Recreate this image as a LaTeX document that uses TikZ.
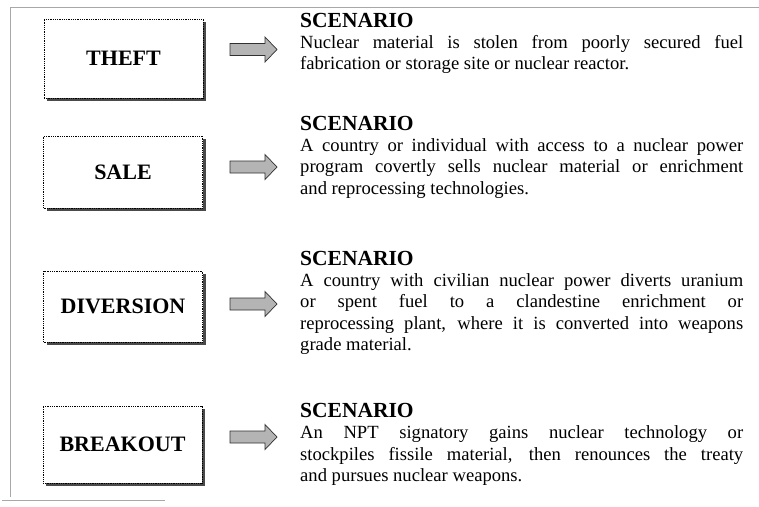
\documentclass[tikz,border=0pt]{standalone}
\usepackage{fontspec}
\setmainfont{Liberation Serif}
\usetikzlibrary{shadows}
\definecolor{framegray}{HTML}{A8A8A8}
\definecolor{shadowgray}{HTML}{4A4A4A}
\definecolor{arrowfill}{HTML}{B4B4B4}
\definecolor{arrowline}{HTML}{303030}
\begin{document}
\begin{tikzpicture}[x=1pt,y=-1pt,
  frameline/.style={draw=framegray, line width=0.9pt},
  labelbox/.style={draw=black, densely dotted, line width=0.8pt, fill=white,
    minimum width=159pt, inner sep=0pt,
    font=\fontsize{22}{26}\selectfont\bfseries,
    drop shadow={shadow xshift=3pt, shadow yshift=-3pt, fill=shadowgray, opacity=1}},
  headtext/.style={anchor=base west, inner sep=0pt, font=\fontsize{21.5}{25}\selectfont\bfseries},
  bodytext/.style={anchor=north west, inner sep=0pt, text width=443pt, align=justify,
    font=\fontsize{18.6}{21.4}\selectfont},
  barrow/.pic={\draw[fill=arrowfill, draw=arrowline, line width=0.7pt]
    (-23.5,-6) -- (11.5,-6) -- (11.5,-12.5) -- (23.5,0) -- (11.5,12.5) -- (11.5,6) -- (-23.5,6) -- cycle;}
]
\useasboundingbox (0,0) rectangle (759,506);
\fill[white] (0,0) rectangle (759,506);

% frame
\draw[frameline] (10,7) -- (759,7);
\draw[frameline] (10,7) -- (10,497);
\draw[frameline] (2,500) -- (165,500);

% left boxes
\node[labelbox, minimum height=79pt] (theft) at (123.5,58.5) {THEFT};
\node[labelbox, minimum height=72pt] (sale) at (123,172) {SALE};
\node[labelbox, minimum height=71pt] (diversion) at (123,306.5) {DIVERSION};
\node[labelbox, minimum height=77pt] (breakout) at (122.5,444.5) {BREAKOUT};

% block arrows
\pic at (253.5,49.5) {barrow};
\pic at (253.5,167) {barrow};
\pic at (253.5,304) {barrow};
\pic at (253.5,437) {barrow};

% scenario texts (body: north = first baseline - 15)
\node[headtext] (h1) at (300,27) {SCENARIO};
\node[bodytext] (t1) at (300,33) {\rule{0pt}{15pt}Nuclear material is stolen from poorly secured fuel\linebreak fabrication or storage site or nuclear reactor.};

\node[headtext] (h2) at (300,130) {SCENARIO};
\node[bodytext] (t2) at (300,136) {\rule{0pt}{15pt}A country or individual with access to a nuclear power\linebreak program covertly sells nuclear material or enrichment\linebreak and reprocessing technologies.};

\node[headtext] (h3) at (300,265) {SCENARIO};
\node[bodytext] (t3) at (300,271) {\rule{0pt}{15pt}A country with civilian nuclear power diverts uranium\linebreak or spent fuel to a clandestine enrichment or\linebreak reprocessing plant, where it is converted into weapons\linebreak grade material.};

\node[headtext] (h4) at (300,417) {SCENARIO};
\node[bodytext] (t4) at (300,423.5) {\rule{0pt}{15pt}An NPT signatory gains nuclear technology or\linebreak stockpiles fissile material, then renounces the treaty\linebreak and pursues nuclear weapons.};
\end{tikzpicture}
\end{document}
